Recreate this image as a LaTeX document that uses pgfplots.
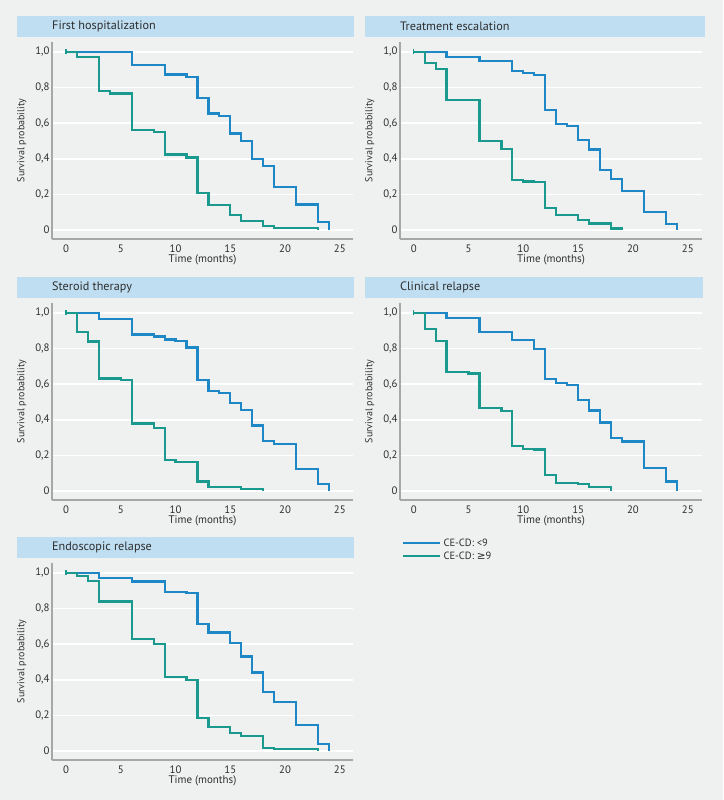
\documentclass[border=0pt]{standalone}
\usepackage{pgfplots}
\pgfplotsset{compat=1.18}
\usepackage{fontspec}
\setmainfont{PT Sans}
\newfontfamily\symf{DejaVu Sans}
\definecolor{bgc}{HTML}{EFF0F0}
\definecolor{barc}{HTML}{BFDEF2}
\definecolor{bluec}{HTML}{1E88C6}
\definecolor{tealc}{HTML}{1A9A8E}
\definecolor{axisc}{HTML}{A6A8A8}
\definecolor{txt}{HTML}{2E2E2E}
\pgfplotsset{
  km/.style={
    scale only axis, width=301pt, height=197pt,
    xmin=-1.28, xmax=26.2, ymin=-0.05, ymax=1.055,
    axis x line*=bottom, axis y line*=left,
    axis line style={axisc, line width=1.2pt, -},
    xtick={0,5,10,15,20,25},
    ytick={0,0.2,0.4,0.6,0.8,1},
    yticklabels={0,{0,2},{0,4},{0,6},{0,8},{1,0}},
    xticklabels={0,5,10,15,20,25},
    major tick length=0pt,
    ymajorgrids, grid style={white, line width=1.5pt},
    tick label style={font=\fontsize{10.8}{12}\selectfont, text=txt},
    xticklabel style={yshift=-2.5pt},
    yticklabel style={xshift=1pt},
    xlabel={Time (months)}, ylabel={Survival probability},
    xlabel style={at={(axis description cs:0.5,-0.105)}, anchor=center, font=\fontsize{11}{12}\selectfont, text=txt},
    ylabel style={at={(axis description cs:-0.1,0.5)}, anchor=center, font=\fontsize{10}{12}\selectfont, text=txt},
    clip=false,
  },
  bl/.style={bluec, line width=2.2pt, const plot, mark=none, line join=miter},
  tl/.style={tealc, line width=2.2pt, const plot, mark=none, line join=miter},
  st/.style={tealc, line width=1.4pt, only marks, mark=|, mark size=2.5pt, forget plot},
}
\begin{document}
\begin{tikzpicture}
\fill[bgc] (0pt,0pt) rectangle (723pt,800pt);
% title bars
\fill[barc] (17pt,763pt) rectangle (354pt,784pt);
\fill[barc] (365pt,763pt) rectangle (705pt,784pt);
\fill[barc] (17pt,502pt) rectangle (354pt,523pt);
\fill[barc] (365pt,502pt) rectangle (703pt,523pt);
\fill[barc] (17pt,242pt) rectangle (354pt,263pt);
\tikzset{ttl/.style={anchor=west, inner sep=0pt, font=\fontsize{12.2}{14}\selectfont, text=txt}}
\node[ttl] at (52pt,773.5pt) {First hospitalization};
\node[ttl] at (400pt,773.5pt) {Treatment escalation};
\node[ttl] at (52pt,512.5pt) {Steroid therapy};
\node[ttl] at (400pt,512.5pt) {Clinical relapse};
\node[ttl] at (52pt,252.5pt) {Endoscopic relapse};

% Panel 1
\begin{axis}[km, at={(52pt,561pt)}, anchor=south west]
\addplot[bl] coordinates {(0,1) (6,0.925) (9,0.873) (11,0.86) (12,0.742) (13,0.654) (14,0.641) (15,0.542) (16,0.499) (17,0.398) (18,0.359) (19,0.243) (21,0.144) (23,0.045) (24,0)};
\addplot[tl] coordinates {(0,1) (1,0.972) (3,0.781) (4,0.766) (6,0.561) (8,0.551) (9,0.424) (11,0.407) (12,0.206) (13,0.14) (15,0.084) (16,0.052) (18,0.022) (19,0.011) (23,0.002)};
\addplot[st] coordinates {(0,1)};
\end{axis}

% Panel 2
\begin{axis}[km, at={(400pt,561pt)}, anchor=south west, width=302pt, xmin=-1.25, xmax=26.3]
\addplot[bl] coordinates {(0,1) (3,0.97) (6,0.947) (9,0.891) (10,0.882) (11,0.872) (12,0.672) (13,0.593) (14,0.585) (15,0.507) (16,0.452) (17,0.338) (18,0.287) (19,0.218) (21,0.101) (23,0.032) (24,0)};
\addplot[tl] coordinates {(0,1) (1,0.938) (2,0.904) (3,0.728) (6,0.499) (8,0.456) (9,0.281) (10,0.272) (11,0.27) (12,0.126) (13,0.086) (15,0.056) (16,0.037) (18,0.009) (19,0)};
\addplot[st] coordinates {(0,1)};
\end{axis}

% Panel 3
\begin{axis}[km, at={(52pt,300pt)}, anchor=south west]
\addplot[bl] coordinates {(0,1) (3,0.966) (6,0.878) (8,0.867) (9,0.85) (10,0.841) (11,0.805) (12,0.625) (13,0.561) (14,0.55) (15,0.495) (16,0.456) (17,0.368) (18,0.283) (19,0.265) (21,0.124) (23,0.039) (24,0)};
\addplot[tl] coordinates {(0,1) (1,0.893) (2,0.839) (3,0.632) (5,0.623) (6,0.379) (8,0.353) (9,0.176) (10,0.163) (12,0.054) (13,0.024) (16,0.011) (18,0)};
\addplot[st] coordinates {(0,1)};
\end{axis}

% Panel 4
\begin{axis}[km, at={(400pt,300pt)}, anchor=south west, width=302pt, xmin=-1.25, xmax=26.3,
  legend style={at={(axis description cs:0.007,-0.186)}, anchor=north west, draw=none, fill=none,
    font=\fontsize{10.5}{12}\selectfont, text=txt, inner sep=0pt, row sep=0pt},
  legend cell align=left,
  legend image code/.code={\draw[#1, line width=2.2pt] (0pt,0pt) -- (37pt,0pt);}]
\addplot[bl] coordinates {(0,1) (3,0.97) (6,0.891) (9,0.846) (11,0.797) (12,0.63) (13,0.604) (14,0.595) (15,0.51) (16,0.452) (17,0.385) (18,0.296) (19,0.278) (21,0.131) (23,0.054) (24,0)};
\addplot[tl] coordinates {(0,1) (1,0.91) (2,0.842) (3,0.666) (5,0.659) (6,0.465) (8,0.447) (9,0.255) (10,0.238) (11,0.233) (12,0.088) (13,0.045) (15,0.038) (16,0.023) (18,0)};
\addplot[st] coordinates {(0,1)};
\legend{CE-CD: <9, CE-CD: {\symf ≥}9}
\end{axis}

% Panel 5
\begin{axis}[km, at={(52pt,40pt)}, anchor=south west]
\addplot[bl] coordinates {(0,1) (3,0.97) (6,0.951) (9,0.892) (11,0.886) (12,0.714) (13,0.665) (15,0.606) (16,0.531) (17,0.441) (18,0.331) (19,0.275) (21,0.148) (23,0.041) (24,0)};
\addplot[tl] coordinates {(0,1) (1,0.983) (2,0.953) (3,0.839) (6,0.628) (8,0.6) (9,0.417) (11,0.398) (12,0.187) (13,0.136) (15,0.103) (16,0.086) (18,0.019) (19,0.011) (23,0.002)};
\addplot[st] coordinates {(0,1)};
\end{axis}
\end{tikzpicture}
\end{document}
